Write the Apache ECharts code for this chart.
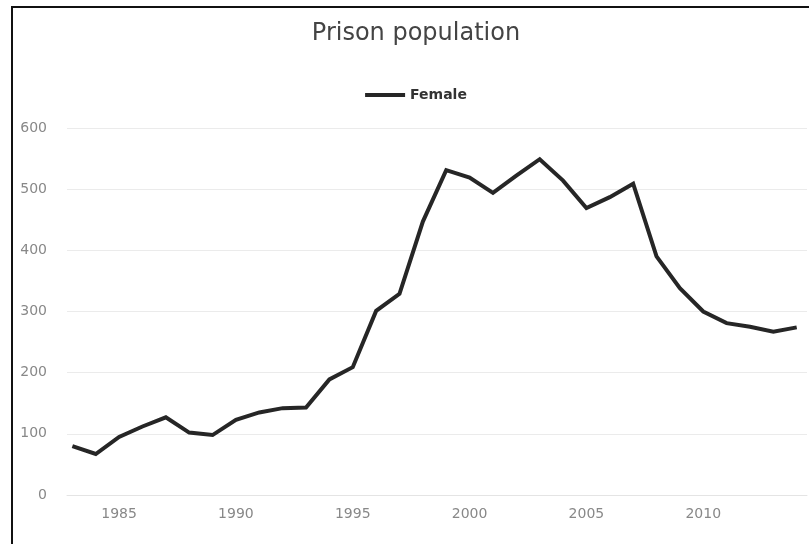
<!DOCTYPE html>
<html>
<head>
<meta charset="utf-8">
<script src="https://cdn.jsdelivr.net/npm/echarts@6/dist/echarts.min.js"></script>
<style>
  html, body { margin: 0; padding: 0; width: 809px; height: 544px; overflow: hidden; background: #fff; }
  #frame { position: absolute; left: 11px; top: 6px; width: 808px; height: 540px; border-left: 2px solid #111; border-top: 2px solid #111; }
  #chart { position: absolute; left: 0; top: 0; width: 806px; height: 536px; }
</style>
</head>
<body>
<div id="frame"><div id="chart"></div></div>
<script>
const years = [1983,1984,1985,1986,1987,1988,1989,1990,1991,1992,1993,1994,1995,1996,1997,1998,1999,2000,2001,2002,2003,2004,2005,2006,2007,2008,2009,2010,2011,2012,2013,2014];
const female = [80,67,95,112,127,102,98,123,135,142,143,189,209,301,329,447,531,519,494,522,549,514,469,487,509,390,338,300,281,275,267,274];
const xTickYears = [1985,1990,1995,2000,2005,2010];
const yTicks = [0,100,200,300,400,500,600];

const chart = echarts.init(document.getElementById('chart'), null, { renderer: 'canvas' });
const font = 'DejaVu Sans';
chart.setOption({
  animation: false,
  title: {
    text: 'Prison population',
    left: 'center',
    top: 14,
    padding: 0,
    textStyle: { fontFamily: font, fontSize: 24, fontWeight: 'normal', color: '#444' }
  },
  legend: {
    top: 80,
    left: 'center',
    padding: 0,
    itemWidth: 40,
    itemHeight: 14,
    itemGap: 10,
    icon: 'path://M0,5 L40,5 L40,9 L0,9 Z',
    itemStyle: { color: '#262626' },
    textStyle: { fontFamily: font, fontSize: 14, fontWeight: 'bold', color: '#333' },
    data: ['Female']
  },
  grid: { left: 54, right: 12, top: 120, bottom: 49, containLabel: false },
  xAxis: {
    type: 'value',
    min: 1982.77,
    max: 2014.44,
    axisLine: { show: true, lineStyle: { color: '#e4e4e4', width: 1 } },
    axisTick: { show: false },
    splitLine: { show: false },
    axisLabel: {
      customValues: xTickYears,
      margin: 12,
      fontFamily: font, fontSize: 14, color: '#888',
      formatter: v => String(v)
    }
  },
  yAxis: {
    type: 'value',
    min: 0,
    max: 600,
    interval: 100,
    axisLine: { show: false },
    axisTick: { show: false },
    splitLine: { show: true, lineStyle: { color: '#ebebeb', width: 1 } },
    axisLabel: { margin: 20, fontFamily: font, fontSize: 14, color: '#888' }
  },
  series: [{
    name: 'Female',
    type: 'line',
    data: years.map((y, i) => [y, female[i]]),
    showSymbol: false,
    symbol: 'none',
    lineStyle: { color: '#262626', width: 4, join: 'miter' },
    itemStyle: { color: '#262626' }
  }]
});
</script>
</body>
</html>
